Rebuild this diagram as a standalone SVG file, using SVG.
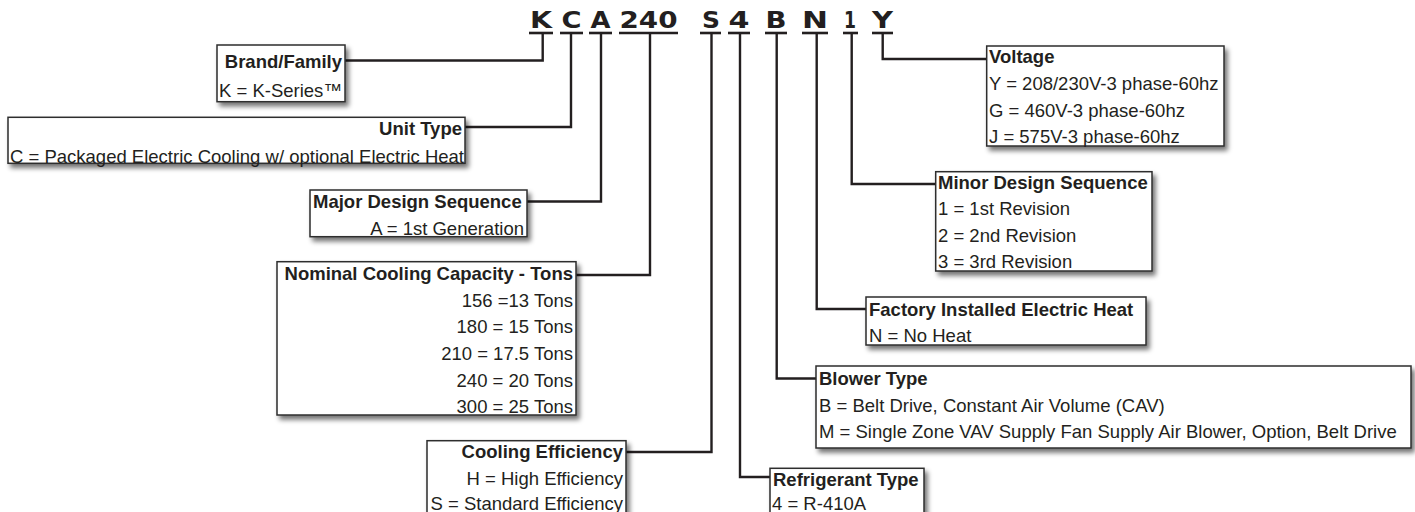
<svg xmlns="http://www.w3.org/2000/svg" width="1415" height="512" viewBox="0 0 1415 512">
<style>
.box{fill:#fff;stroke:#2e2e2e;stroke-width:1.5;filter:url(#sh)}
.t{font-family:"Liberation Sans",Arial,sans-serif;font-size:18.5px;fill:#231f20}
.b{font-weight:bold}
.e{text-anchor:end}
.hd{font-family:"DejaVu Sans","Liberation Sans",sans-serif;font-weight:bold;font-size:23.5px;fill:#231f20;text-anchor:middle}
.ul{stroke:#231f20;stroke-width:2.6}
.cn{fill:none;stroke:#231f20;stroke-width:2.4}
</style>
<defs>
<filter id="sh" x="-10%" y="-20%" width="130%" height="160%">
<feGaussianBlur in="SourceAlpha" stdDeviation="2.5"/>
<feOffset dx="3" dy="4" result="o"/>
<feComponentTransfer><feFuncA type="linear" slope="0.55"/></feComponentTransfer>
<feMerge><feMergeNode/><feMergeNode in="SourceGraphic"/></feMerge>
</filter>
</defs>
<rect width="1415" height="512" fill="#fff"/>
<g id="header">
<text class="hd" x="541" y="28.3" textLength="22" lengthAdjust="spacingAndGlyphs">K</text>
<text class="hd" x="571.5" y="28.3" textLength="20" lengthAdjust="spacingAndGlyphs">C</text>
<text class="hd" x="600.5" y="28.3" textLength="20" lengthAdjust="spacingAndGlyphs">A</text>
<text class="hd" x="648.5" y="28.3" textLength="58" lengthAdjust="spacingAndGlyphs">240</text>
<text class="hd" x="711" y="28.3" textLength="18" lengthAdjust="spacingAndGlyphs">S</text>
<text class="hd" x="739" y="28.3" textLength="21" lengthAdjust="spacingAndGlyphs">4</text>
<text class="hd" x="776" y="28.3" textLength="21" lengthAdjust="spacingAndGlyphs">B</text>
<text class="hd" x="815" y="28.3" textLength="26" lengthAdjust="spacingAndGlyphs">N</text>
<text class="hd" x="850" y="28.3" textLength="12" lengthAdjust="spacingAndGlyphs">1</text>
<text class="hd" x="882.5" y="28.3" textLength="21" lengthAdjust="spacingAndGlyphs">Y</text>
<line class="ul" x1="529" y1="33" x2="553" y2="33"/>
<line class="ul" x1="560" y1="33" x2="583" y2="33"/>
<line class="ul" x1="589" y1="33" x2="612" y2="33"/>
<line class="ul" x1="619" y1="33" x2="678" y2="33"/>
<line class="ul" x1="700" y1="33" x2="721" y2="33"/>
<line class="ul" x1="728" y1="33" x2="750" y2="33"/>
<line class="ul" x1="765" y1="33" x2="787" y2="33"/>
<line class="ul" x1="802" y1="33" x2="828" y2="33"/>
<line class="ul" x1="843" y1="33" x2="858" y2="33"/>
<line class="ul" x1="872" y1="33" x2="893" y2="33"/>
</g>
<g id="connectors">
<path class="cn" d="M542.7 33V60.5H345"/>
<path class="cn" d="M571 33V127H465"/>
<path class="cn" d="M601 33V201.5H527"/>
<path class="cn" d="M650 33V275H576"/>
<path class="cn" d="M711.5 33V452H626"/>
<path class="cn" d="M740 33V477H770"/>
<path class="cn" d="M776.7 33V378.5H816"/>
<path class="cn" d="M816.7 33V309H866"/>
<path class="cn" d="M851.7 33V184H935.7"/>
<path class="cn" d="M882.7 33V59H986.7"/>
</g>
<g id="brand">
<rect class="box" x="217" y="45" width="128" height="56.7"/>
<text class="t b e" x="342" y="68.3">Brand/Family</text>
<text class="t" x="219" y="96.6">K = K-Series™</text>
</g>
<g id="unit-type">
<rect class="box" x="8" y="117.3" width="457" height="46"/>
<text class="t b e" x="462" y="135">Unit Type</text>
<text class="t" x="10" y="163">C = Packaged Electric Cooling w/ optional Electric Heat</text>
</g>
<g id="major">
<rect class="box" x="310" y="190" width="217" height="46.7"/>
<text class="t b" x="313" y="208.3">Major Design Sequence</text>
<text class="t e" x="524" y="234.6">A = 1st Generation</text>
</g>
<g id="nominal">
<rect class="box" x="277" y="261.7" width="299" height="153.3"/>
<text class="t b e" x="573" y="279.6">Nominal Cooling Capacity - Tons</text>
<text class="t e" x="573" y="306.6">156 =13 Tons</text>
<text class="t e" x="573" y="333.3">180 = 15 Tons</text>
<text class="t e" x="573" y="359.6">210 = 17.5 Tons</text>
<text class="t e" x="573" y="386.6">240 = 20 Tons</text>
<text class="t e" x="573" y="412.6">300 = 25 Tons</text>
</g>
<g id="cooling-efficiency">
<rect class="box" x="427" y="440.7" width="199" height="80"/>
<text class="t b e" x="623" y="458.3">Cooling Efficiency</text>
<text class="t e" x="623" y="485">H = High Efficiency</text>
<text class="t e" x="623" y="509.5">S = Standard Efficiency</text>
</g>
<g id="refrigerant">
<rect class="box" x="770" y="468.3" width="154" height="60"/>
<text class="t b" x="773" y="485.6">Refrigerant Type</text>
<text class="t" x="772" y="509.5">4 = R-410A</text>
</g>
<g id="blower">
<rect class="box" x="816" y="366" width="595" height="82"/>
<text class="t b" x="819" y="385">Blower Type</text>
<text class="t" x="819" y="411.5">B = Belt Drive, Constant Air Volume (CAV)</text>
<text class="t" x="819" y="437.8">M = Single Zone VAV Supply Fan Supply Air Blower, Option, Belt Drive</text>
</g>
<g id="factory">
<rect class="box" x="866" y="297" width="280" height="48"/>
<text class="t b" x="869" y="315.6">Factory Installed Electric Heat</text>
<text class="t" x="869" y="341.6">N = No Heat</text>
</g>
<g id="minor">
<rect class="box" x="935.7" y="171.7" width="216.3" height="99.3"/>
<text class="t b" x="938" y="189">Minor Design Sequence</text>
<text class="t" x="938" y="215">1 = 1st Revision</text>
<text class="t" x="938" y="241.6">2 = 2nd Revision</text>
<text class="t" x="938" y="268.3">3 = 3rd Revision</text>
</g>
<g id="voltage">
<rect class="box" x="986.7" y="46" width="237.3" height="100"/>
<text class="t b" x="989" y="63.3">Voltage</text>
<text class="t" x="989" y="90">Y = 208/230V-3 phase-60hz</text>
<text class="t" x="989" y="116.6">G = 460V-3 phase-60hz</text>
<text class="t" x="989" y="143.3">J = 575V-3 phase-60hz</text>
</g>
</svg>
